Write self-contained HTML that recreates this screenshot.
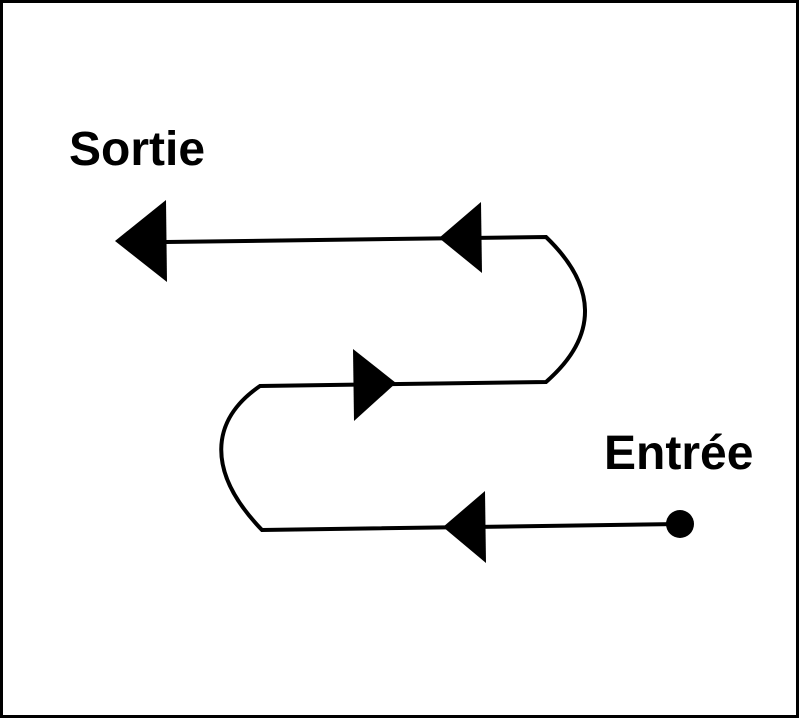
<!DOCTYPE html>
<html><head><style>
html,body{margin:0;padding:0;background:#fff;}
svg{display:block;}
text{font-family:"Liberation Sans",sans-serif;font-weight:bold;font-size:48px;fill:#000;}
</style></head><body>
<svg width="799" height="718" viewBox="0 0 799 718">
<rect x="1.5" y="1.5" width="796" height="715" fill="#fff" stroke="#000" stroke-width="3"/>
<text x="69" y="165">Sortie</text>
<text x="604" y="469">Entrée</text>
<g fill="none" stroke="#000" stroke-width="4">
<path d="M680 524 L262 530 C206 472 210 420 260 386 L546 382 C600 335 596 285 546 237 L166 242"/>
</g>
<g fill="#000">
<polygon points="115,241 166,200 167,282"/>
<polygon points="439,238 481,202 482,273"/>
<polygon points="396,383 353,349 354,421"/>
<polygon points="443,527 485,491 486,563"/>
<circle cx="680" cy="524" r="14"/>
</g>
</svg>
</body></html>
